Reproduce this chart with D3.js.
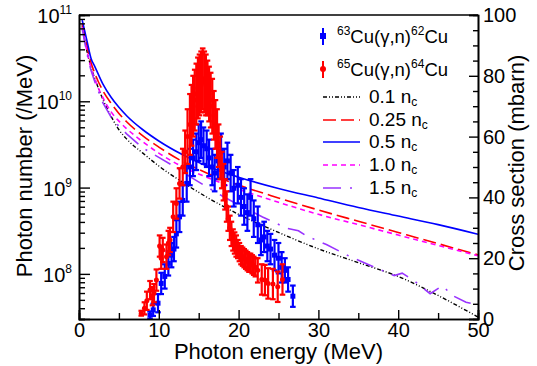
<!DOCTYPE html>
<html>
<head>
<meta charset="utf-8">
<script src="https://cdn.jsdelivr.net/npm/d3@7"></script>
<style>
  body { margin: 0; background: #fff; }
  svg { display: block; font-family: "Liberation Sans", Arial, sans-serif; }
</style>
</head>
<body>
<div id="chart"></div>
<script>
// photon spectra (/MeV) vs photon energy (MeV)
const energyGrid = [0.4, 1, 1.5, 2, 3, 4, 5, 6, 8, 10, 13, 16, 20, 25, 30, 35, 40, 45, 50];
const spec01 = [7.59e10, 3.80e10, 2.51e10, 1.82e10, 1.05e10, 6.76e9, 4.68e9, 3.63e9, 2.51e9, 1.78e9, 1.15e9, 7.76e8, 4.90e8, 3.02e8, 1.95e8, 1.35e8, 9.33e7, 5.62e7, 3.16e7];
const spec025 = [7.94e10, 4.37e10, 2.82e10, 2.09e10, 1.32e10, 9.55e9, 7.24e9, 5.75e9, 3.98e9, 2.95e9, 2.00e9, 1.48e9, 1.07e9, 7.59e8, 5.50e8, 4.07e8, 3.02e8, 2.24e8, 1.66e8];
const spec05 = [8.71e10, 5.01e10, 3.16e10, 2.51e10, 1.58e10, 1.12e10, 8.51e9, 6.76e9, 4.68e9, 3.47e9, 2.40e9, 1.78e9, 1.32e9, 9.77e8, 7.59e8, 5.89e8, 4.68e8, 3.72e8, 2.88e8];
const spec10 = [7.24e10, 3.80e10, 2.45e10, 1.78e10, 1.10e10, 7.59e9, 5.89e9, 4.79e9, 3.39e9, 2.51e9, 1.74e9, 1.32e9, 9.55e8, 6.76e8, 4.90e8, 3.72e8, 2.82e8, 2.14e8, 1.62e8];
const energy15 = [0.4, 1, 1.5, 2, 3, 4, 5, 6, 8, 10, 12, 14, 16, 18, 20, 23, 26, 27.5, 28.5, 31, 34, 37, 39.5, 40.5, 42, 44, 45.5, 47, 48.5, 50];
const spec15 = [6.92e10, 3.55e10, 2.29e10, 1.66e10, 9.55e9, 6.61e9, 5.13e9, 4.17e9, 2.88e9, 2.24e9, 1.74e9, 1.32e9, 1.02e9, 7.94e8, 6.31e8, 4.57e8, 3.39e8, 3.16e8, 2.75e8, 2.19e8, 1.58e8, 1.20e8, 9.55e7, 1.02e8, 8.32e7, 5.89e7, 7.24e7, 5.50e7, 4.68e7, 4.37e7];

// 63Cu(g,n)62Cu cross section (mbarn)
const cu63E = [8.9, 9.3, 9.9, 10.3, 10.75, 11.2, 11.6, 11.9, 12.2, 12.6, 13.0, 13.5, 13.9, 14.3, 14.7, 15.0, 15.3, 15.6, 16.0, 16.3, 16.7, 17.0, 17.4, 17.8, 18.2, 18.6, 19.0, 19.4, 19.9, 20.3, 20.7, 21.1, 21.5, 21.9, 22.4, 22.8, 23.2, 23.6, 24.0, 24.5, 25.0, 25.4, 25.8, 26.2, 26.8];
const cu63Sigma = [1.3, 3, 5.2, 11.7, 14, 18.3, 21, 23, 28, 33.6, 39, 44.6, 50, 53, 55, 58, 59, 57, 56, 53, 50, 48, 52, 55, 50, 52, 48, 43, 44, 40, 37, 35, 40, 33, 31, 26, 27, 24, 23, 21, 20, 17, 16, 13, 7.5];
const cu63Err = [1.2, 2, 3, 3.5, 4, 4, 4, 4, 4.5, 5, 5, 6, 6, 6, 6, 6, 6, 6, 6, 6, 6, 6, 6, 6, 6, 6, 6, 6, 6, 6, 6, 6, 6, 6, 6, 5, 5, 5, 5, 5, 5, 5, 4, 4, 3.5];

// 65Cu(g,n)64Cu cross section (mbarn)
const cu65E = [7.8, 8.2, 8.5, 8.9, 9.2, 9.4, 9.7, 10.1, 10.3, 10.5, 10.96, 11.2, 11.4, 11.8, 12.2, 12.6, 13.0, 13.3, 13.6, 13.9, 14.1, 14.3, 14.5, 14.7, 14.9, 15.1, 15.3, 15.5, 15.7, 15.9, 16.1, 16.3, 16.5, 16.7, 16.9, 17.1, 17.3, 17.5, 17.7, 17.9, 18.1, 18.3, 18.5, 18.7, 18.9, 19.1, 19.3, 19.5, 19.7, 19.9, 20.1, 20.3, 20.5, 20.7, 20.9, 21.1, 21.3, 21.5, 21.7, 21.9, 22.1, 22.4, 22.9, 23.3, 23.7, 24.3, 24.9, 25.5];
const cu65Sigma = [1.9, 3.5, 6, 9.5, 7.5, 8.5, 12.8, 24, 20, 22.7, 20.5, 25, 26, 33.6, 38, 44.6, 50, 55, 60, 64, 67, 70, 72, 74, 76, 77, 78, 79, 78, 77, 76, 74, 72, 70, 67, 64, 61, 57, 53, 49, 45, 41, 37, 33, 30, 28, 26, 25, 24, 23, 22, 21, 20.5, 20, 19.5, 19, 18.5, 18.5, 18, 17.5, 17, 16, 13, 12.8, 11.7, 11.5, 10.6, 13];
const cu65Err = [0.8, 2, 3, 3, 3, 3, 3.5, 3.5, 3.5, 4, 4, 4, 4, 5, 5, 5, 6, 7, 9, 10, 10, 10, 10, 10, 10, 10, 10, 10, 10, 10, 9, 9, 9, 9, 8, 8, 8, 7, 7, 6, 6, 5, 5, 4, 4, 4, 3.5, 3.5, 3.5, 3, 3, 3, 3, 3, 3, 3, 3, 3, 3, 3, 3, 4, 5, 5, 5, 5, 5, 5];

const xTicks = [0, 10, 20, 30, 40, 50];
const xMinorTicks = [5, 15, 25, 35, 45];
const yLeftTicks = [1e8, 1e9, 1e10, 1e11];
const yRightTicks = [0, 20, 40, 60, 80, 100];

const legendItems = [
  { type: 'data', color: '#0000ff', shape: 'square', a: '63', b: '62' },
  { type: 'data', color: '#ff0000', shape: 'circle', a: '65', b: '64' },
  { type: 'line', label: '0.1', color: '#000000', dash: '4,2,1,2,1,2', width: 1.4 },
  { type: 'line', label: '0.25', color: '#ff0000', dash: '13,5', width: 1.6 },
  { type: 'line', label: '0.5', color: '#0000ff', dash: null, width: 1.6 },
  { type: 'line', label: '1.0', color: '#ff00ff', dash: '5,4', width: 1.6 },
  { type: 'line', label: '1.5', color: '#9933ff', dash: '18,9,2,9', width: 1.6 }
];

const W = 537, H = 366;
const margin = { left: 79, right: 478, top: 15, bottom: 319 };

const svg = d3.select('#chart')
  .append('svg')
  .attr('width', W)
  .attr('height', H);

svg.append('rect').attr('width', W).attr('height', H).attr('fill', '#fff');

const x = d3.scaleLinear().domain([0, 50]).range([margin.left, margin.right]);
const yL = d3.scaleLog().domain([3e7, 1e11]).range([margin.bottom, margin.top]);
const yR = d3.scaleLinear().domain([0, 100]).range([margin.bottom, margin.top]);

svg.append('clipPath').attr('id', 'plotclip')
  .append('rect')
  .attr('x', margin.left).attr('y', margin.top)
  .attr('width', margin.right - margin.left).attr('height', margin.bottom - margin.top);

const plot = svg.append('g').attr('clip-path', 'url(#plotclip)');

// spectra
const specSeries = [
  { e: energyGrid, v: spec01, idx: 2, smooth: true },
  { e: energyGrid, v: spec025, idx: 3, smooth: true },
  { e: energyGrid, v: spec05, idx: 4, smooth: true },
  { e: energyGrid, v: spec10, idx: 5, smooth: true },
  { e: energy15, v: spec15, idx: 6, smooth: false }
];
specSeries.forEach(s => {
  const st = legendItems[s.idx];
  const line = d3.line()
    .x(d => x(d[0]))
    .y(d => yL(d[1]))
    .curve(s.smooth ? d3.curveMonotoneX : d3.curveLinear);
  plot.append('path')
    .datum(s.e.map((e, i) => [e, s.v[i]]))
    .attr('d', line)
    .attr('fill', 'none')
    .attr('stroke', st.color)
    .attr('stroke-width', st.width)
    .attr('stroke-dasharray', st.dash);
});

// cross section data with error bars
const drawData = (E, S, Er, color, shape) => {
  const g = plot.append('g');
  const pts = E.map((e, i) => ({ e, s: S[i], err: Er[i] }));
  const pg = g.selectAll('g').data(pts).enter().append('g');
  pg.append('line')
    .attr('x1', d => x(d.e)).attr('x2', d => x(d.e))
    .attr('y1', d => yR(d.s - d.err)).attr('y2', d => yR(d.s + d.err))
    .attr('stroke', color).attr('stroke-width', 2.2);
  [-1, 1].forEach(sgn => {
    pg.append('line')
      .attr('x1', d => x(d.e) - 2.8).attr('x2', d => x(d.e) + 2.8)
      .attr('y1', d => yR(d.s + sgn * d.err)).attr('y2', d => yR(d.s + sgn * d.err))
      .attr('stroke', color).attr('stroke-width', 2.2);
  });
  if (shape === 'square') {
    pg.append('rect')
      .attr('x', d => x(d.e) - 2.5).attr('y', d => yR(d.s) - 2.5)
      .attr('width', 5).attr('height', 5)
      .attr('fill', color);
  } else {
    pg.append('circle')
      .attr('cx', d => x(d.e)).attr('cy', d => yR(d.s))
      .attr('r', 2.5).attr('fill', color);
  }
};
drawData(cu63E, cu63Sigma, cu63Err, '#0000ff', 'square');
drawData(cu65E, cu65Sigma, cu65Err, '#ff0000', 'circle');

// axes
const axisStyle = g => {
  g.selectAll('.domain').attr('stroke', '#000').attr('stroke-width', 1.6);
  g.selectAll('.tick line').attr('stroke', '#000').attr('stroke-width', 1.4);
  g.selectAll('text').attr('font-size', 20).attr('fill', '#000')
    .attr('font-family', '"Liberation Sans", Arial, sans-serif');
};

svg.append('g')
  .attr('transform', `translate(0,${margin.bottom})`)
  .call(d3.axisBottom(x).tickValues(xMinorTicks).tickSize(-6).tickFormat(''))
  .call(axisStyle);
svg.append('g')
  .attr('transform', `translate(0,${margin.bottom})`)
  .call(d3.axisBottom(x).tickValues(xTicks).tickSize(-9).tickPadding(4).tickFormat(d3.format('d')))
  .call(axisStyle);

// log minor ticks
const yMinor = [];
[1e7, 1e8, 1e9, 1e10].forEach(dec => {
  for (let k = 2; k <= 9; k++) {
    const v = k * dec;
    if (v >= 3e7 && v < 1e11) yMinor.push(v);
  }
});
svg.append('g')
  .attr('transform', `translate(${margin.left},0)`)
  .call(d3.axisLeft(yL).tickValues(yMinor).tickSize(-6).tickFormat(''))
  .call(axisStyle);
svg.append('g')
  .attr('transform', `translate(${margin.left},0)`)
  .call(d3.axisLeft(yL).tickValues(yLeftTicks).tickSize(-11).tickFormat(''))
  .call(axisStyle);
yLeftTicks.forEach(v => {
  const t = svg.append('text')
    .attr('x', 72).attr('y', yL(v) + 8)
    .attr('text-anchor', 'end')
    .attr('font-size', 20);
  t.append('tspan').text('10');
  t.append('tspan').attr('font-size', 12).attr('dy', -9).text(Math.round(Math.log10(v)));
});

// right axis
svg.append('g')
  .attr('transform', `translate(${margin.right},0)`)
  .call(d3.axisRight(yR).tickValues(d3.range(5, 100, 5).filter(v => v % 20 !== 0)).tickSize(-5).tickFormat(''))
  .call(axisStyle);
svg.append('g')
  .attr('transform', `translate(${margin.right},0)`)
  .call(d3.axisRight(yR).tickValues(yRightTicks).tickSize(-9).tickPadding(5).tickFormat(d3.format('d')))
  .call(axisStyle);

// top frame
svg.append('line')
  .attr('x1', margin.left).attr('x2', margin.right)
  .attr('y1', margin.top).attr('y2', margin.top)
  .attr('stroke', '#000').attr('stroke-width', 1.4);

// axis titles
svg.append('text')
  .attr('x', (margin.left + margin.right) / 2).attr('y', 359)
  .attr('text-anchor', 'middle').attr('font-size', 22)
  .text('Photon energy (MeV)');
svg.append('text')
  .attr('transform', 'translate(32,166) rotate(-90)')
  .attr('text-anchor', 'middle').attr('font-size', 22)
  .text('Photon number (/MeV)');
svg.append('text')
  .attr('transform', 'translate(524,163) rotate(-90)')
  .attr('text-anchor', 'middle').attr('font-size', 22)
  .text('Cross section (mbarn)');

// legend
const legendY = [36, 69, 97, 120, 142, 165, 188];
const legend = svg.append('g');
legendItems.forEach((it, i) => {
  const cy = legendY[i];
  if (it.type === 'data') {
    legend.append('line')
      .attr('x1', 323).attr('x2', 323)
      .attr('y1', cy - 8).attr('y2', cy + 9)
      .attr('stroke', it.color).attr('stroke-width', 2);
    if (it.shape === 'square') {
      legend.append('rect').attr('x', 320).attr('y', cy - 3).attr('width', 6).attr('height', 6).attr('fill', it.color);
    } else {
      legend.append('circle').attr('cx', 323).attr('cy', cy).attr('r', 3).attr('fill', it.color);
    }
    const t = legend.append('text').attr('x', 337).attr('y', cy + 7).attr('font-size', 18.5);
    t.append('tspan').attr('font-size', 12).attr('dy', -8).text(it.a);
    t.append('tspan').attr('dy', 8).text('Cu(γ,n)');
    t.append('tspan').attr('font-size', 12).attr('dy', -8).text(it.b);
    t.append('tspan').attr('dy', 8).text('Cu');
  } else {
    legend.append('line')
      .attr('x1', 323).attr('x2', 360)
      .attr('y1', cy).attr('y2', cy)
      .attr('stroke', it.color).attr('stroke-width', it.width)
      .attr('stroke-dasharray', it.dash);
    const t = legend.append('text').attr('x', 369).attr('y', cy + 6).attr('font-size', 19);
    t.append('tspan').text(it.label + ' n');
    t.append('tspan').attr('font-size', 12).attr('dy', 3).text('c');
  }
});
</script>
</body>
</html>
